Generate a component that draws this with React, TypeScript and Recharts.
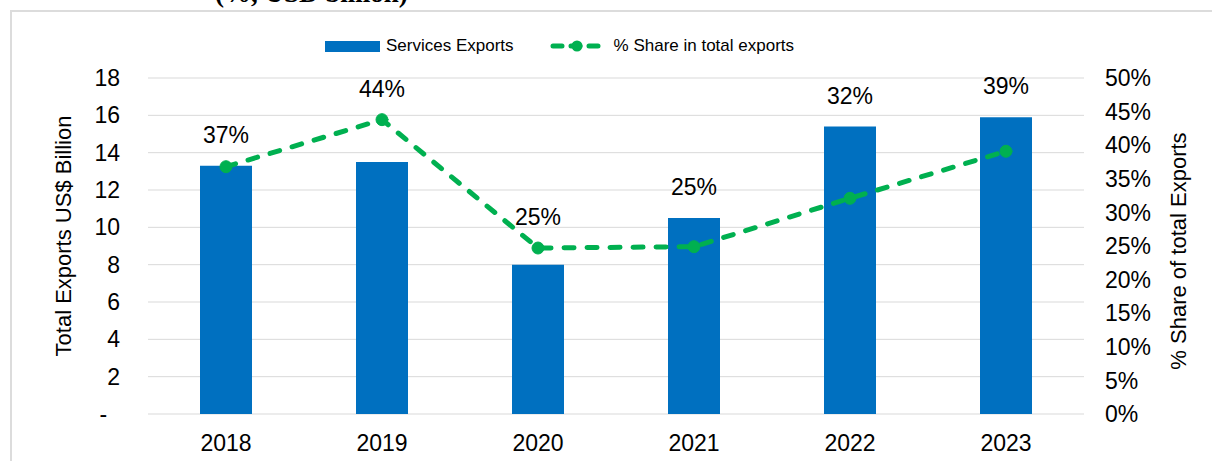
import { ComposedChart, Bar, Line, XAxis, YAxis, CartesianGrid, Legend, LabelList } from "recharts";

const years = ["2018", "2019", "2020", "2021", "2022", "2023"];
const servicesExports = [13.3, 13.5, 8.0, 10.5, 15.4, 15.9];
const sharePct = [36.8, 43.8, 24.7, 24.9, 32.1, 39.1];
const leftTicks = [0, 2, 4, 6, 8, 10, 12, 14, 16, 18];
const rightTicks = [0, 5, 10, 15, 20, 25, 30, 35, 40, 45, 50];

const LEFT_MAX = 18;
const RIGHT_MAX = 50;
const BLUE = "#0070C0";
const GREEN = "#00B050";
const FONT = "'Liberation Sans', Arial, sans-serif";

const data = years.map((year, i) => ({
    year,
    exports: servicesExports[i],
    share: sharePct[i],
}));
const edgeTicks = [...years.map((_, i) => i), years.length];

// label sits above whichever mark is higher: bar top or line point
const ShareLabel = (props: any) => {
    const vb = props.viewBox ?? props;
    const { x, y, width, height } = vb;
    const i = props.index;
    const pxPerUnit = height / servicesExports[i];
    const bottom = y + height;
    const pointY = bottom - (sharePct[i] / RIGHT_MAX) * LEFT_MAX * pxPerUnit;
    const top = Math.min(y, pointY);
    return (
        <text x={x + width / 2} y={top - 31} textAnchor="middle" dominantBaseline="central"
            fill="#000" fontSize={23} fontFamily={FONT}>
            {Math.round(sharePct[i])}%
        </text>
    );
};

const LeftTitle = (props: any) => {
    const { x, y, height } = props.viewBox;
    const cx = x + 63;
    const cy = y + height / 2 - 10;
    return (
        <text x={cx} y={cy} transform={`rotate(-90 ${cx} ${cy})`} textAnchor="middle" dominantBaseline="central"
            fill="#000" fontSize={22} fontFamily={FONT}>
            Total Exports US$ Billion
        </text>
    );
};

const RightTitle = (props: any) => {
    const { x, y, height } = props.viewBox;
    const cx = x + 94;
    const cy = y + height / 2 + 5;
    return (
        <text x={cx} y={cy} transform={`rotate(-90 ${cx} ${cy})`} textAnchor="middle" dominantBaseline="central"
            fill="#000" fontSize={22} fontFamily={FONT}>
            % Share of total Exports
        </text>
    );
};

const LegendBox = () => (
    <div style={{ height: 44, paddingLeft: 325, fontFamily: FONT, fontSize: 17, color: "#000" }}>
        <div style={{ height: 24, display: "flex", alignItems: "center" }}>
            <span style={{ width: 55, height: 11, background: BLUE, display: "inline-block" }} />
            <span style={{ marginLeft: 6 }}>Services Exports</span>
            <svg width={54} height={14} style={{ marginLeft: 36 }}>
                <line x1={3} y1={7} x2={51} y2={7} stroke={GREEN} strokeWidth={5} strokeLinecap="round" strokeDasharray="9 9" />
                <circle cx={27} cy={7} r={5.5} fill={GREEN} />
            </svg>
            <span style={{ marginLeft: 10 }}>% Share in total exports</span>
        </div>
    </div>
);

export default function App() {
    return (
        <div style={{ position: "absolute", left: 0, top: 0, width: 1212, height: 461, overflow: "hidden", background: "#fff" }}>
            <div style={{ position: "absolute", left: 10, top: 10, right: -10, bottom: -10, borderTop: "2px solid #dcdcdc", borderLeft: "2px solid #dcdcdc" }} />
            <div style={{ position: "absolute", left: 215, top: -20, fontFamily: "'Liberation Serif', 'Times New Roman', serif", fontWeight: "bold", fontSize: 27, lineHeight: 1, whiteSpace: "nowrap", color: "#000" }}>
                (%, USD billion)
            </div>
            <ComposedChart width={1212} height={461} data={data} margin={{ top: 34, right: 0, bottom: 0, left: 0 }}
                style={{ position: "absolute", left: 0, top: 0 }}>
                <CartesianGrid yAxisId="left" vertical={false} stroke="#d9d9d9" strokeWidth={1} />
                <XAxis xAxisId="edges" type="number" domain={[0, years.length]} ticks={edgeTicks} height={0}
                    tick={false} stroke="#d9d9d9" tickSize={6} axisLine={{ stroke: "#d9d9d9", strokeWidth: 1.5 }}
                    tickLine={{ stroke: "#d9d9d9", strokeWidth: 1.5 }} />
                <XAxis xAxisId="cat" dataKey="year" height={47} axisLine={false} tickLine={false} tickSize={0} tickMargin={21}
                    tick={{ fill: "#000", fontSize: 23, fontFamily: FONT }} interval={0} />
                <YAxis yAxisId="left" domain={[0, LEFT_MAX]} ticks={leftTicks} width={148} axisLine={false} tickLine={false}
                    tickSize={0} tickMargin={28} interval={0}
                    tickFormatter={(v: number) => (v === 0 ? "-\u00A0\u00A0" : String(v))}
                    tick={{ fill: "#000", fontSize: 23, fontFamily: FONT }} label={<LeftTitle />} />
                <YAxis yAxisId="right" orientation="right" domain={[0, RIGHT_MAX]} ticks={rightTicks} width={128}
                    axisLine={false} tickLine={false} tickSize={0} tickMargin={21} interval={0}
                    tickFormatter={(v: number) => `${v}%`}
                    tick={{ fill: "#000", fontSize: 23, fontFamily: FONT, textAnchor: "start" }} label={<RightTitle />} />
                <Legend verticalAlign="top" align="left" content={<LegendBox />} />
                <Bar xAxisId="cat" yAxisId="left" dataKey="exports" name="Services Exports" fill={BLUE} barSize={52}
                    isAnimationActive={false}>
                    <LabelList dataKey="share" content={<ShareLabel />} />
                </Bar>
                <Line xAxisId="cat" yAxisId="right" dataKey="share" name="% Share in total exports" type="linear"
                    stroke={GREEN} strokeWidth={5} strokeDasharray="10 13" strokeLinecap="round"
                    dot={{ r: 6, fill: GREEN, stroke: GREEN, strokeWidth: 1, strokeDasharray: "" }}
                    activeDot={false} isAnimationActive={false} />
            </ComposedChart>
        </div>
    );
}
